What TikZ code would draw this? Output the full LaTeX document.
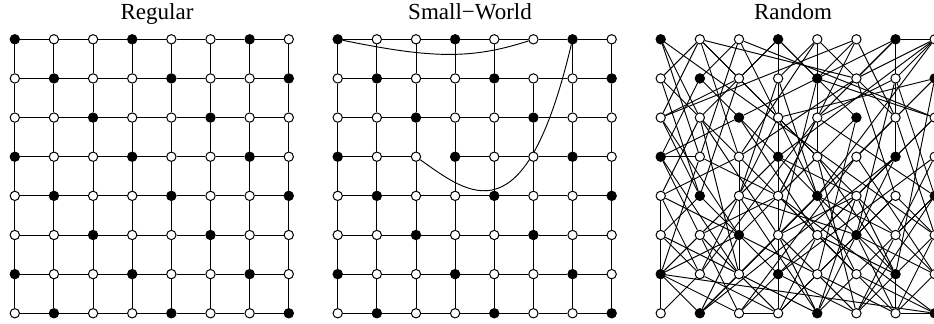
\documentclass[tikz,border=0pt]{standalone}
\usepackage{fontspec}
\setmainfont{Liberation Serif}
\usetikzlibrary{backgrounds}
\begin{document}
\begin{tikzpicture}[x=0.75pt,y=-0.75pt,
  vtx/.style={circle,draw=black,line width=0.75pt,inner sep=0pt,minimum size=7pt},
  edge/.style={line width=0.7pt,black},
  ttl/.style={anchor=base,font=\fontsize{17.25}{20}\selectfont,inner sep=0pt}]
\useasboundingbox (0,0) rectangle (934,324);
\clip (0,0) rectangle (934,324);
\node[ttl] (t1) at (157,19.5) {Regular};
\node[ttl] (t2) at (470,19.5) {Small−World};
\node[ttl] (t3) at (793,19.5) {Random};
\foreach \p/\xo in {A/14.8,S/337.7,R/660.7} {
  \foreach \c in {0,...,7} {
    \foreach \r in {0,...,7} {
      \pgfmathtruncatemacro\k{mod(\c-\r+21,3)}
      \ifnum\k=0 \def\fc{black}\else\def\fc{white}\fi
      \node[vtx,fill=\fc] (\p-\c-\r) at (\xo+39.14*\c, 39.3+39.14*\r) {};
    }
  }
}
\begin{pgfonlayer}{background}
% regular lattice
\foreach \c in {0,...,7} {
  \foreach \r [count=\rr from 1] in {0,...,6} {
    \draw[edge] (A-\c-\r) -- (A-\c-\rr);
    \draw[edge] (A-\r-\c) -- (A-\rr-\c);
  }
}
% small world lattice with two rewired edges
\foreach \c in {0,...,7} {
  \foreach \r [count=\rr from 1] in {0,...,6} {
    \pgfmathtruncatemacro\sv{(\c==5)&&(\r==0)}
    \pgfmathtruncatemacro\sh{(\c==3)&&(\r==2)}
    \ifnum\sv=0 \draw[edge] (S-\c-\r) -- (S-\c-\rr);\fi
    \ifnum\sh=0 \draw[edge] (S-\r-\c) -- (S-\rr-\c);\fi
  }
}
\draw[edge] (S-0-0) .. controls (430,58) and (470,60) .. (S-5-0);
\draw[edge] (S-2-3) .. controls (470,195) and (525,240) .. (S-6-0);
% random graph
\foreach \a/\b/\c/\d in {
0/0/7/5, 0/0/1/3, 0/0/1/2,
1/0/0/1, 1/0/0/2, 1/0/2/1, 1/0/3/2, 1/0/5/1, 1/0/2/3,
2/0/1/1, 2/0/3/2, 2/0/7/2, 2/0/1/3,
3/0/3/7, 3/0/2/1, 3/0/4/1, 3/0/1/2, 3/0/5/2,
4/0/3/1, 4/0/6/2, 4/0/2/3, 4/0/4/3,
5/0/4/1, 5/0/0/2, 5/0/6/2, 5/0/3/4,
6/0/7/0, 6/0/4/2, 6/0/2/2, 6/0/5/1, 6/0/6/3,
7/0/5/1, 7/0/3/3, 7/0/4/4, 7/0/6/1,
0/1/1/4, 0/1/2/3,
1/1/6/6, 1/1/0/3,
2/1/0/2, 2/1/1/4, 2/1/4/3,
3/1/4/4, 3/1/2/4,
4/1/7/2, 4/1/3/5,
5/1/2/3, 5/1/6/4,
6/1/4/2, 6/1/5/5, 6/1/7/4,
7/1/5/3, 7/1/3/2, 7/1/6/6,
0/2/1/4, 0/2/2/5,
1/2/0/4, 1/2/3/5, 1/2/2/6,
2/2/4/5, 2/2/0/3,
3/2/2/4, 3/2/6/5, 3/2/5/6,
4/2/7/4, 4/2/1/6, 4/2/3/4,
5/2/3/4, 5/2/4/6,
6/2/7/5, 6/2/2/6,
7/2/7/3, 7/2/5/4, 7/2/3/6,
0/3/1/3, 0/3/1/5, 0/3/2/6,
1/3/3/4, 1/3/0/6,
2/3/2/6, 2/3/0/4, 2/3/5/6,
3/3/1/5, 3/3/5/4,
4/3/2/5, 4/3/6/6, 4/3/5/7,
5/3/7/6, 5/3/2/7,
6/3/5/5, 6/3/1/7, 6/3/4/5,
7/3/6/5, 7/3/3/6,
0/4/2/5, 0/4/1/6, 0/4/0/7,
1/4/3/6, 1/4/0/5,
2/4/1/6, 2/4/4/7, 2/4/5/5,
3/4/1/5, 3/4/5/6, 3/4/7/7,
4/4/2/6, 4/4/6/5, 4/4/1/7,
5/4/6/6, 5/4/3/5, 5/4/4/7,
6/4/7/5, 6/4/3/7, 6/4/4/6,
7/4/6/5, 7/4/5/7, 7/4/5/6,
0/5/1/6, 0/5/2/6,
1/5/0/6, 1/5/3/7, 1/5/2/7,
2/5/0/6, 2/5/4/6, 2/5/1/7,
3/5/4/7, 3/5/5/7,
4/5/6/6, 4/5/3/7, 4/5/6/7,
5/5/7/6, 5/5/4/7, 5/5/6/7,
6/5/7/6, 6/5/5/7,
7/5/6/6, 7/5/6/7,
0/6/7/7, 0/6/1/7, 0/6/2/7,
1/6/0/7, 1/6/3/7,
2/6/1/7, 2/6/4/7,
3/6/2/7, 3/6/5/7,
4/6/3/7, 4/6/6/7,
5/6/4/7, 5/6/7/7,
6/6/5/7, 6/6/6/7,
7/6/6/7, 7/6/7/7,
2/7/3/7, 6/7/7/7} {
  \draw[edge] (R-\a-\b) -- (R-\c-\d);
}
\end{pgfonlayer}
\end{tikzpicture}
\end{document}
